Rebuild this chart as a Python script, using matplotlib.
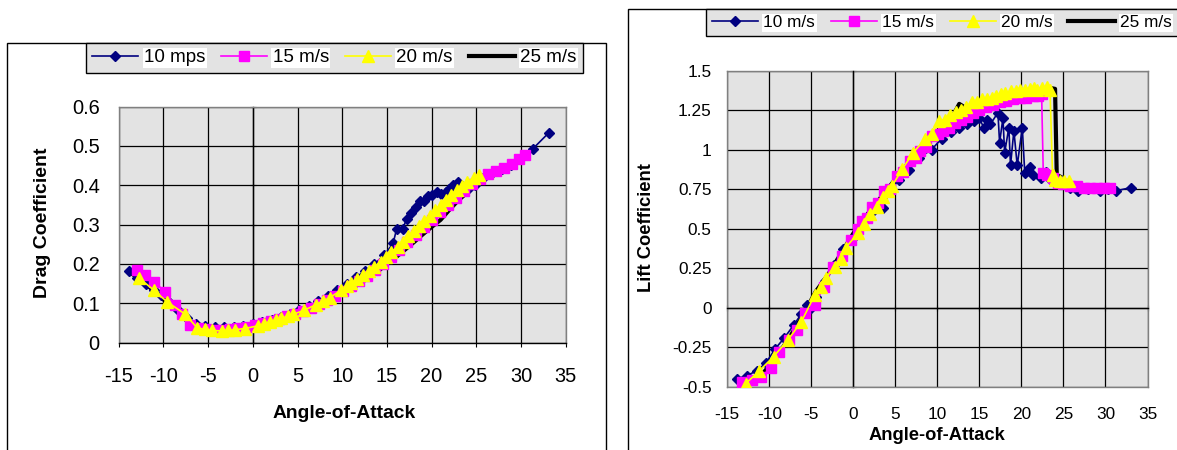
import matplotlib

matplotlib.use("Agg")
import matplotlib.pyplot as plt
from matplotlib.patches import Rectangle

plt.rcParams["font.family"] = ["Liberation Sans", "DejaVu Sans"]

# ---- drag coefficient vs angle of attack ----
aoa_10_drag = [-13.8, -12.9, -12.0, -11.1, -10.3, -9.4, -8.4, -7.4, -6.3, -5.3, -4.2, -3.2, -2.1, -1.1,
               0.0, 1.0, 2.1, 3.1, 4.2, 5.2, 6.3, 7.3, 8.4, 9.4, 10.5, 11.5, 12.6, 13.6, 14.7, 15.7,
               16.1, 16.8, 17.2, 17.7, 18.2, 18.7, 19.2, 19.6, 20.1, 20.6, 21.1, 21.6, 22.0, 22.4,
               22.9, 23.6, 24.2, 24.8, 25.8, 26.8, 27.9, 28.9, 29.9, 31.3, 33.1]
cd_10 = [0.183, 0.165, 0.148, 0.135, 0.120, 0.103, 0.082, 0.062, 0.048, 0.043, 0.041, 0.040, 0.041, 0.043,
         0.047, 0.052, 0.058, 0.065, 0.073, 0.082, 0.092, 0.105, 0.118, 0.134, 0.150, 0.166, 0.183, 0.200,
         0.222, 0.253, 0.290, 0.290, 0.315, 0.330, 0.345, 0.359, 0.360, 0.372, 0.375, 0.384, 0.378, 0.383,
         0.390, 0.400, 0.407, 0.396, 0.392, 0.400, 0.418, 0.430, 0.440, 0.452, 0.466, 0.492, 0.533]

aoa_15_drag = [-13.0, -12.1, -11.0, -9.8, -8.7, -7.9, -7.0, -6.1, -5.2, -4.3, -3.4, -2.5, -1.6, -0.7,
               0.2, 1.1, 2.0, 2.9, 3.8, 4.7, 5.6, 6.5, 7.4, 8.3, 9.2, 10.1, 11.0, 11.9, 12.8, 13.7, 14.6,
               15.5, 16.4, 17.3, 18.2, 19.1, 20.0, 20.9, 21.8, 22.7, 23.6, 24.5, 25.4, 26.3, 27.2, 28.1,
               29.0, 29.8, 30.5]
cd_15 = [0.185, 0.172, 0.155, 0.128, 0.096, 0.072, 0.045, 0.037, 0.034, 0.033, 0.033, 0.034, 0.037, 0.040,
         0.045, 0.050, 0.055, 0.061, 0.067, 0.074, 0.081, 0.089, 0.098, 0.108, 0.119, 0.131, 0.143, 0.156,
         0.170, 0.185, 0.201, 0.218, 0.236, 0.255, 0.274, 0.293, 0.312, 0.331, 0.350, 0.368, 0.386, 0.402,
         0.416, 0.428, 0.437, 0.445, 0.455, 0.466, 0.476]

aoa_20_drag = [-12.7, -11.1, -9.6, -7.6, -6.2, -5.4, -4.6, -3.5, -2.8, -2.0, -0.9, 0.6, 1.3, 1.9, 2.6,
               3.2, 3.9, 4.5, 5.7, 7.1, 7.8, 8.6, 9.9, 10.5, 11.0, 11.7, 12.3, 13.0, 13.6, 14.3, 14.9,
               15.5, 16.2, 16.8, 17.4, 18.0, 18.6, 19.2, 19.8, 20.4, 21.0, 21.6, 22.2, 22.8, 23.4, 24.0,
               24.7, 25.3]
cd_20 = [0.164, 0.134, 0.104, 0.073, 0.037, 0.034, 0.031, 0.030, 0.031, 0.033, 0.036, 0.043, 0.047, 0.052,
         0.057, 0.062, 0.067, 0.072, 0.082, 0.097, 0.105, 0.114, 0.134, 0.143, 0.151, 0.161, 0.171, 0.182,
         0.193, 0.206, 0.217, 0.230, 0.244, 0.257, 0.270, 0.283, 0.297, 0.310, 0.323, 0.336, 0.349, 0.362,
         0.375, 0.387, 0.398, 0.409, 0.418, 0.425]

aoa_25_drag = [-13.5, -12.0, -10.5, -9.0, -8.0, -7.0, -6.0, -5.0, -4.0, -3.0, -2.0, -1.0, 0.0, 1.0, 2.0,
               3.0, 4.0, 5.0, 6.0, 7.0, 8.0, 9.0, 10.0, 11.0, 12.0, 13.0, 14.0, 15.0, 16.0, 17.0, 18.0,
               19.0, 20.0, 21.0, 22.0, 23.0, 24.0]
cd_25 = [0.175, 0.150, 0.120, 0.090, 0.070, 0.048, 0.036, 0.032, 0.030, 0.031, 0.033, 0.036, 0.041, 0.046,
         0.052, 0.058, 0.065, 0.072, 0.080, 0.090, 0.100, 0.112, 0.124, 0.137, 0.151, 0.166, 0.182, 0.199,
         0.217, 0.236, 0.255, 0.275, 0.294, 0.312, 0.338, 0.362, 0.382]

# ---- lift coefficient vs angle of attack ----
aoa_10_lift = [-13.9, -12.7, -11.5, -10.4, -9.3, -8.2, -7.1, -6.2, -5.5, -5.0, -4.4, -3.4, -2.3, -1.2,
               -0.1, 1.0, 2.1, 3.5, 4.4, 5.4, 6.6, 7.8, 9.3, 10.5, 11.6, 12.6, 13.5, 14.3, 15.0, 15.5,
               15.9, 16.3, 17.2, 17.4, 17.8, 18.0, 18.5, 18.7, 19.1, 19.5, 20.1, 20.4, 21.0, 21.4, 22.3,
               22.9, 23.5, 24.2, 25.0, 25.8, 26.7, 27.9, 29.4, 30.3, 31.3, 33.0]
cl_10 = [-0.45, -0.43, -0.40, -0.35, -0.26, -0.19, -0.11, -0.04, 0.02, 0.00, 0.07, 0.17, 0.27, 0.37,
         0.44, 0.53, 0.60, 0.63, 0.74, 0.81, 0.87, 0.95, 1.00, 1.07, 1.11, 1.14, 1.16, 1.18, 1.20, 1.14,
         1.19, 1.16, 1.235, 1.045, 1.20, 0.98, 1.14, 0.90, 1.12, 0.90, 1.14, 0.85, 0.89, 0.84, 0.82,
         0.86, 0.81, 0.79, 0.78, 0.76, 0.74, 0.75, 0.74, 0.75, 0.74, 0.76]

aoa_15_lift = [-13.2, -12.1, -11.0, -9.8, -8.8, -7.7, -6.7, -5.7, -4.6, -3.5, -2.4, -1.4, -0.3, 0.6, 1.0,
               1.6, 2.2, 2.9, 3.7, 4.4, 5.2, 5.9, 6.7, 7.4, 7.9, 8.7, 9.4, 10.1, 10.7, 11.4, 12.1, 12.8,
               13.5, 14.2, 15.0, 15.8, 16.6, 17.4, 18.2, 19.0, 19.8, 20.6, 21.4, 22.0, 22.4, 22.6, 23.1,
               23.7, 24.3, 25.0, 25.8, 26.6, 27.4, 28.2, 29.0, 29.8, 30.5]
cl_15 = [-0.47, -0.46, -0.44, -0.38, -0.28, -0.205, -0.14, -0.035, 0.02, 0.13, 0.26, 0.33, 0.43, 0.50,
         0.547, 0.57, 0.64, 0.66, 0.737, 0.75, 0.833, 0.86, 0.93, 0.95, 0.99, 1.02, 1.087, 1.10, 1.12,
         1.14, 1.17, 1.19, 1.21, 1.23, 1.25, 1.27, 1.28, 1.30, 1.31, 1.32, 1.33, 1.33, 1.34, 1.34, 1.35,
         0.85, 0.84, 0.82, 0.79, 0.78, 0.77, 0.77, 0.76, 0.76, 0.76, 0.76, 0.76]

aoa_20_lift = [-12.8, -11.2, -9.5, -7.8, -6.2, -4.6, -3.9, -3.3, -2.2, -1.5, -0.9, 0.5, 1.3, 2.0, 2.8,
               3.5, 4.1, 4.6, 5.8, 7.1, 8.5, 9.3, 10.2, 10.9, 11.5, 12.2, 12.8, 13.4, 14.1, 14.7, 15.3,
               15.9, 16.5, 17.0, 17.6, 18.1, 18.7, 19.3, 19.8, 20.4, 21.0, 21.5, 21.9, 22.5, 23.0, 23.4,
               23.7, 24.0, 24.6, 25.1, 25.6]
cl_20 = [-0.48, -0.40, -0.31, -0.205, -0.09, 0.08, 0.13, 0.19, 0.26, 0.31, 0.38, 0.47, 0.53, 0.59, 0.64,
         0.70, 0.74, 0.77, 0.875, 0.98, 1.065, 1.10, 1.18, 1.19, 1.22, 1.24, 1.25, 1.27, 1.30, 1.30, 1.32,
         1.32, 1.33, 1.34, 1.35, 1.36, 1.37, 1.37, 1.38, 1.38, 1.385, 1.39, 1.38, 1.39, 1.40, 1.38,
         0.84, 0.81, 0.80, 0.80, 0.80]

aoa_25_lift = [-13.5, -12.0, -10.5, -9.0, -7.5, -6.0, -4.5, -3.0, -1.5, 0.0, 1.5, 3.0, 4.5, 6.0, 7.5,
               9.0, 10.5, 12.0, 12.6, 13.5, 15.0, 16.5, 18.0, 19.5, 21.0, 22.5, 23.5, 24.0, 24.2, 24.6]
cl_25 = [-0.50, -0.46, -0.40, -0.30, -0.18, -0.05, 0.10, 0.21, 0.34, 0.47, 0.58, 0.68, 0.78, 0.88, 0.97,
         1.06, 1.14, 1.23, 1.29, 1.26, 1.29, 1.31, 1.33, 1.35, 1.37, 1.38, 1.39, 1.385, 0.84, 0.83]

drag_legend = ["10 mps", "15 m/s", "20 m/s", "25 m/s"]
lift_legend = ["10 m/s", "15 m/s", "20 m/s", "25 m/s"]

x_ticks = [-15, -10, -5, 0, 5, 10, 15, 20, 25, 30, 35]
x_ticklabels = ["-15", "-10", "-5", "0", "5", "10", "15", "20", "25", "30", "35"]
cd_ticks = [0, 0.1, 0.2, 0.3, 0.4, 0.5, 0.6]
cd_ticklabels = ["0", "0.1", "0.2", "0.3", "0.4", "0.5", "0.6"]
cl_ticks = [-0.5, -0.25, 0, 0.25, 0.5, 0.75, 1, 1.25, 1.5]
cl_ticklabels = ["-0.5", "-0.25", "0", "0.25", "0.5", "0.75", "1", "1.25", "1.5"]

W, H = 1177, 450
PT = 100 / 72  # pixels per point at dpi 100
NAVY, PINK, YELLOW, BLACK = "#000080", "#FF00FF", "#FFFF00", "#000000"
FRAME = "#808080"


def px_axes(fig, x0, y0, x1, y1):
    return fig.add_axes([x0 / W, 1 - y1 / H, (x1 - x0) / W, (y1 - y0) / H])


def draw_series(ax, data):
    (x10, y10), (x15, y15), (x20, y20), (x25, y25) = data
    h25, = ax.plot(x25, y25, color=BLACK, lw=3, zorder=3)
    h10, = ax.plot(x10, y10, color=NAVY, lw=1.2, marker="D", ms=5.5, mec=NAVY, zorder=4)
    h15, = ax.plot(x15, y15, color=PINK, lw=1.2, marker="s", ms=7, mec=PINK, zorder=5)
    h20, = ax.plot(x20, y20, color=YELLOW, lw=1.2, marker="^", ms=8, mec=YELLOW, zorder=6)
    return [h10, h15, h20, h25]


def base_style(ax, ylim, yticks, yticklabels):
    ax.set_facecolor("#E3E3E3")
    ax.set_xlim(-15, 35)
    ax.set_ylim(*ylim)
    ax.set_xticks(x_ticks)
    ax.set_xticklabels(x_ticklabels)
    ax.set_yticks(yticks)
    ax.set_yticklabels(yticklabels)
    ax.grid(True, color="black", lw=0.9)
    ax.set_axisbelow(True)
    for s in ax.spines.values():
        s.set_color(FRAME)
        s.set_linewidth(1)
    # y axis drawn at x = 0 like the spreadsheet chart
    ax.spines["right"].set_position(("data", 0))
    ax.spines["right"].set_color("black")
    ax.plot([1, 1], [0, 1], transform=ax.transAxes, color=FRAME, lw=1, clip_on=False, zorder=2.5)


def add_legend(fig, handles, labels, anchor, fs, hl, cs):
    leg = fig.legend(handles, labels, loc="upper left", bbox_to_anchor=anchor, ncol=4,
                     fontsize=fs, frameon=True, fancybox=False, framealpha=1,
                     facecolor="#E3E3E3", edgecolor="black", handlelength=hl,
                     handletextpad=0.3, columnspacing=cs, borderpad=0.35, borderaxespad=0)
    leg.get_frame().set_linewidth(1)
    for t in leg.get_texts():
        t.set_bbox(dict(facecolor="white", edgecolor="none", pad=1))
    return leg


fig = plt.figure(figsize=(W / 100, H / 100), dpi=100)

# chart borders
fig.add_artist(Rectangle((7 / W, -0.05), (605.7 - 7) / W, 1.05 - 42.7 / H,
                         transform=fig.transFigure, fill=False, ec="black", lw=1))
fig.add_artist(Rectangle((628.3 / W, -0.05), 1, 1.05 - 9.3 / H,
                         transform=fig.transFigure, fill=False, ec="black", lw=1))

# ---- left: drag ----
ax1 = px_axes(fig, 118.7, 106.5, 565.7, 342.7)
base_style(ax1, (0, 0.6), cd_ticks, cd_ticklabels)
ax1.spines["bottom"].set_color("black")
ax1.tick_params(axis="y", left=False, right=True, labelleft=True, labelright=False,
                direction="inout", length=5, pad=19 / PT - 2.5, labelsize=14.4)
ax1.tick_params(axis="x", bottom=True, top=False, direction="out", length=3,
                pad=24 / PT - 3, labelsize=14.4)
h_drag = draw_series(ax1, [(aoa_10_drag, cd_10), (aoa_15_drag, cd_15),
                           (aoa_20_drag, cd_20), (aoa_25_drag, cd_25)])
ax1.set_xlabel("Angle-of-Attack", fontsize=13.9, fontweight="bold")
ax1.set_ylabel("Drag Coefficient", fontsize=14, fontweight="bold")
ax1.xaxis.set_label_coords(0.504, -0.264)
ax1.yaxis.set_label_coords(-0.152, 0.509)
add_legend(fig, h_drag, drag_legend, (85.7 / W, 1 - 42.7 / H), 13.5, 2.45, 0.85)

# ---- right: lift ----
ax2 = px_axes(fig, 727.3, 70.7, 1147.5, 386.7)
base_style(ax2, (-0.5, 1.5), cl_ticks, cl_ticklabels)
ax2.spines["top"].set_position(("data", 0))
ax2.spines["top"].set_color("black")
ax2.plot([0, 1], [1, 1], transform=ax2.transAxes, color=FRAME, lw=1, clip_on=False, zorder=2.5)
ax2.tick_params(axis="y", left=False, right=True, labelleft=True, labelright=False,
                direction="inout", length=5, pad=15.6 / PT - 2.5, labelsize=12.4)
ax2.tick_params(axis="x", bottom=False, top=True, labelbottom=True, labeltop=False,
                direction="inout", length=5, pad=20 / PT - 2.5, labelsize=12.4)
h_lift = draw_series(ax2, [(aoa_10_lift, cl_10), (aoa_15_lift, cl_15),
                           (aoa_20_lift, cl_20), (aoa_25_lift, cl_25)])
ax2.set_xlabel("Angle-of-Attack", fontsize=13.2, fontweight="bold")
ax2.set_ylabel("Lift Coefficient", fontsize=13.2, fontweight="bold")
ax2.xaxis.set_label_coords(0.5, -0.1275)
ax2.yaxis.set_label_coords(-0.172, 0.504)
add_legend(fig, h_lift, lift_legend, (705.7 / W, 1 - 9.3 / H), 12.4, 2.7, 0.9)

fig.savefig("out.png", dpi=100)
